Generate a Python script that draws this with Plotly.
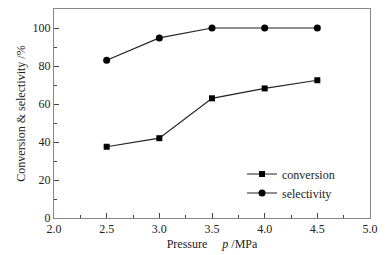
import plotly.graph_objects as go

pressure = [2.5, 3.0, 3.5, 4.0, 4.5]
conversion = [37.5, 42.0, 63.0, 68.2, 72.5]
selectivity = [83.0, 94.8, 100.0, 100.0, 100.0]

font = dict(family="Liberation Serif, Times New Roman, serif", size=12, color="#222")

fig = go.Figure()
fig.add_trace(go.Scatter(x=pressure, y=conversion, mode="lines+markers", name="conversion",
                         line=dict(color="#222", width=1.2),
                         marker=dict(symbol="square", size=6, color="#000")))
fig.add_trace(go.Scatter(x=pressure, y=selectivity, mode="lines+markers", name="selectivity",
                         line=dict(color="#222", width=1.2),
                         marker=dict(symbol="circle", size=7, color="#000")))

axis_common = dict(showline=True, linecolor="#888", linewidth=1, mirror=True,
                   ticks="inside", ticklen=5, tickcolor="#444", showgrid=False,
                   zeroline=False, tickfont=font, automargin=False)
fig.update_xaxes(range=[2.0, 5.0], dtick=0.5, tickformat=".1f",
                 minor=dict(ticks="inside", ticklen=3, dtick=0.25, tickcolor="#444"),
                 title=dict(text="Pressure&nbsp;&nbsp;&nbsp;&nbsp;&nbsp;<i>p</i> /MPa", font=font, standoff=4),
                 **axis_common)
fig.update_yaxes(range=[0, 110], dtick=20,
                 minor=dict(ticks="inside", ticklen=3, dtick=10, tickcolor="#444"),
                 title=dict(text="Conversion & selectivity /%", font=font, standoff=4),
                 **axis_common)
fig.update_layout(width=388, height=255, margin=dict(l=54, r=18, t=9, b=37),
                  plot_bgcolor="white", paper_bgcolor="white", font=font,
                  legend=dict(x=0.595, y=0.28, xanchor="left", yanchor="top",
                              bgcolor="rgba(0,0,0,0)", font=font, itemwidth=30,
                              tracegroupgap=0))
fig.write_html("out.html", config={"displayModeBar": False},
               post_script="document.body.style.margin='0';")
